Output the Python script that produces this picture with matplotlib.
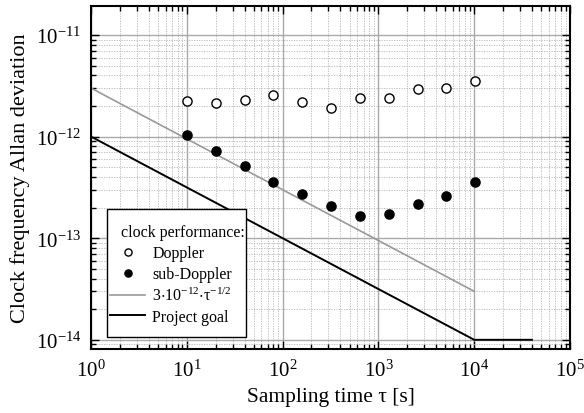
import numpy as np
import matplotlib
matplotlib.use("Agg")
import matplotlib.pyplot as plt
from matplotlib.patches import Rectangle
from matplotlib.ticker import LogLocator, NullFormatter, FuncFormatter

# measured points
tau = [10, 20, 40, 80, 160, 320, 640, 1280, 2560, 5120, 10240]
doppler = [2.24e-12, 2.15e-12, 2.29e-12, 2.56e-12, 2.2e-12, 1.9e-12,
           2.4e-12, 2.4e-12, 2.94e-12, 3.0e-12, 3.5e-12]
sub_doppler = [1.03e-12, 7.2e-13, 5.1e-13, 3.56e-13, 2.7e-13, 2.07e-13,
               1.65e-13, 1.74e-13, 2.16e-13, 2.6e-13, 3.6e-13]

# reference lines
ref_tau = [1, 10, 100, 1000, 10000]
ref_sigma = [3e-12, 9.49e-13, 3e-13, 9.49e-14, 3e-14]
goal_tau = [1, 10, 100, 1000, 10000, 40000]
goal_sigma = [1e-12, 3.16e-13, 1e-13, 3.16e-14, 1e-14, 1e-14]

plt.rcParams['font.family'] = ['Liberation Serif', 'DejaVu Serif']
plt.rcParams['mathtext.fontset'] = 'custom'
plt.rcParams['mathtext.rm'] = 'Liberation Serif'
plt.rcParams['mathtext.it'] = 'Liberation Serif:italic'
plt.rcParams['mathtext.default'] = 'regular'
plt.rcParams['axes.unicode_minus'] = False


def pow10(v, pos):
    e = int(round(np.log10(v)))
    return r'$10^{%d}$' % e


fig, ax = plt.subplots(figsize=(5.84, 4.14), dpi=100)
fig.subplots_adjust(left=0.156, right=0.976, top=0.983, bottom=0.155)

ax.plot(ref_tau, ref_sigma, color='#999999', lw=1.2,
        label=r'$3{\cdot}10^{-12}{\cdot}$τ$^{-1/2}$')
ax.plot(goal_tau, goal_sigma, color='black', lw=1.4, label='Project goal')
ax.plot(tau, doppler, 'o', mfc='white', mec='black', mew=1.0, ms=6.6,
        label='Doppler')
ax.plot(tau, sub_doppler, 'o', mfc='black', mec='black', ms=6.6,
        label='sub-Doppler')

ax.set_xscale('log')
ax.set_yscale('log')
ax.set_xlim(1, 1e5)
ax.set_ylim(8.15e-15, 1.93e-11)

ax.xaxis.set_minor_locator(LogLocator(base=10, subs=np.arange(2, 10), numticks=20))
ax.yaxis.set_minor_locator(LogLocator(base=10, subs=np.arange(2, 10), numticks=20))
ax.xaxis.set_minor_formatter(NullFormatter())
ax.yaxis.set_minor_formatter(NullFormatter())
ax.xaxis.set_major_formatter(FuncFormatter(pow10))
ax.yaxis.set_major_formatter(FuncFormatter(pow10))

ax.grid(True, which='major', color='#aaaaaa', lw=1.0, ls='-')
ax.grid(True, which='minor', color='#b5b5b5', lw=0.6, ls=(0, (1.5, 1.5)))
ax.set_axisbelow(True)

ax.tick_params(which='both', direction='in', top=True, right=True,
               labelsize=15, width=1.0)
ax.tick_params(which='major', length=6)
ax.tick_params(which='minor', length=3.5)
ax.tick_params(axis='x', pad=8)
ax.tick_params(axis='y', pad=7)
for s in ax.spines.values():
    s.set_linewidth(1.5)

ax.set_xlabel('Sampling time τ [s]', fontsize=15.5, labelpad=4)
ax.set_ylabel('Clock frequency Allan deviation', fontsize=16, labelpad=4)

# legend box with more room above/below than at the sides
ax.add_patch(Rectangle((0.0334, 0.035), 0.29, 0.373, transform=ax.transAxes,
                       facecolor='white', edgecolor='black', lw=1.0, zorder=4))
ax.text(0.0626, 0.341, 'clock performance:', transform=ax.transAxes,
        fontsize=11.5, va='center', ha='left', zorder=5)

h, l = ax.get_legend_handles_labels()
order = [2, 3, 0, 1]
leg = ax.legend([h[i] for i in order], [l[i] for i in order],
                loc='upper left', bbox_to_anchor=(0.0397, 0.302),
                fontsize=11.5, frameon=False, markerscale=0.78,
                handlelength=2.2, handletextpad=0.45, borderpad=0,
                borderaxespad=0, labelspacing=0.3)
leg.set_zorder(6)

fig.savefig('out.png', dpi=100)
